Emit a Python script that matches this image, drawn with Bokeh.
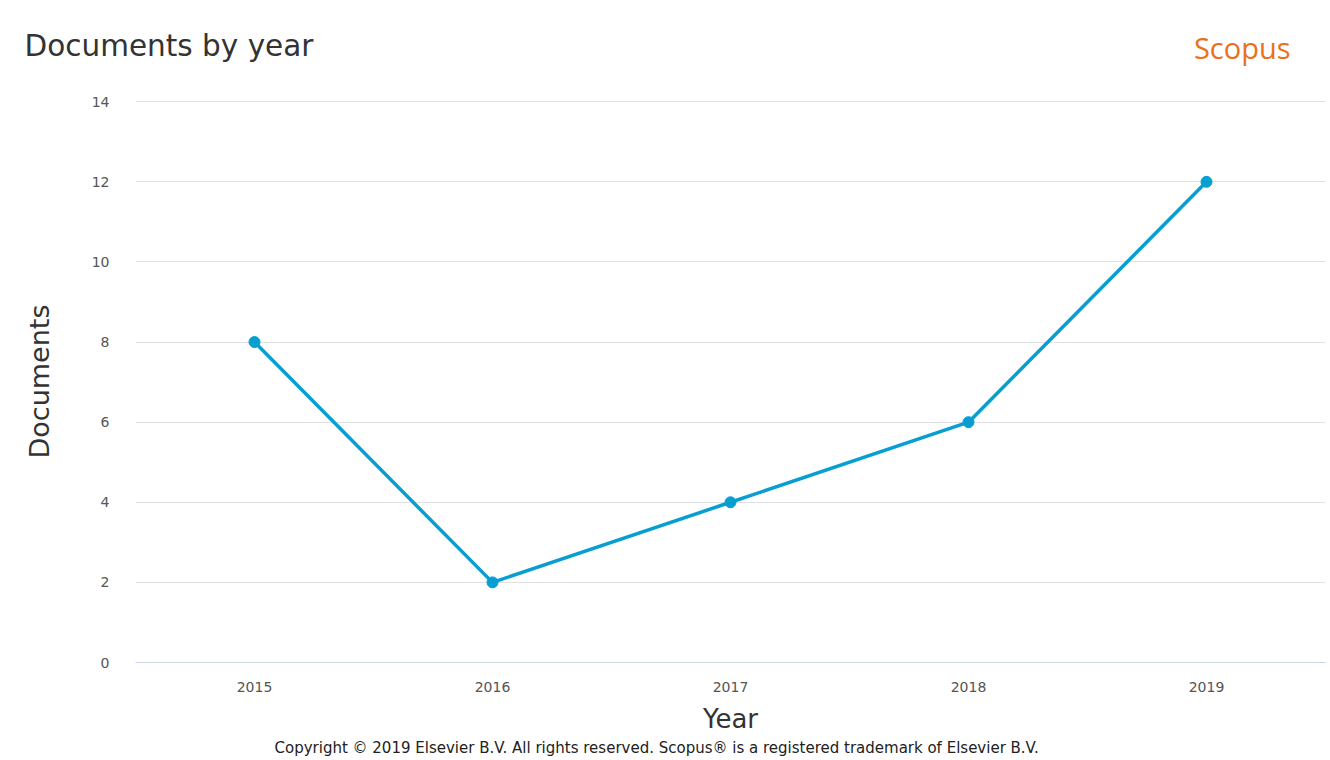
from bokeh.plotting import figure
from bokeh.models import Range1d, FixedTicker, Title
from bokeh.layouts import column, row
from bokeh.core.properties import value
from bokeh.embed import file_html
from bokeh.resources import INLINE

years = [2015, 2016, 2017, 2018, 2019]
documents = [8, 2, 4, 6, 12]
y_ticks = [0, 2, 4, 6, 8, 10, 12, 14]
grid_ticks = [2, 4, 6, 8, 10, 12, 14]

title_text = "Documents by year"
brand_text = "Scopus"
copyright_text = ("Copyright © 2019 Elsevier B.V. All rights reserved. "
                  "Scopus® is a registered trademark of Elsevier B.V.")

LINE = "#079fd2"
W = 1330
HEAD_H = 92
MAIN_H = 758 - HEAD_H

# header: title + brand (own row, so its frame is not aligned with the chart's)
head = figure(width=W, height=HEAD_H, output_backend="svg", toolbar_location=None,
              x_range=Range1d(0, W), y_range=Range1d(0, HEAD_H),
              x_axis_type=None, y_axis_type=None,
              min_border_left=0, min_border_right=0, min_border_top=0, min_border_bottom=0)
head.grid.visible = False
head.outline_line_color = None
head.text(x=[24], y=[HEAD_H - 45], text=[title_text], text_font=value("DejaVu Sans"),
          text_font_size="29.5px", text_color="#333333", text_baseline="alphabetic")
head.text(x=[1290], y=[HEAD_H - 47], text=[brand_text], text_font=value("Open Sans"),
          text_font_size="29px", text_color="#e9711c", text_baseline="alphabetic",
          text_align="right")

# main chart
TOP = 8
p = figure(width=W, height=MAIN_H, output_backend="svg", toolbar_location=None,
           x_range=Range1d(2014.5, 2019.5), y_range=Range1d(0, 14.03),
           min_border_left=135, min_border_right=5,
           min_border_top=TOP, min_border_bottom=MAIN_H - TOP - 562)
p.outline_line_color = None
p.background_fill_color = "white"

p.line(years, documents, line_color=LINE, line_width=3.5)
p.scatter(years, documents, size=11, fill_color=LINE, line_color=LINE)

p.xaxis.ticker = FixedTicker(ticks=years)
p.yaxis.ticker = FixedTicker(ticks=y_ticks)
p.xgrid.grid_line_color = None
p.ygrid.ticker = FixedTicker(ticks=grid_ticks)
p.ygrid.grid_line_color = "#e0e0e6"
p.ygrid.grid_line_width = 1

for ax in (p.xaxis, p.yaxis):
    ax.major_tick_line_color = None
    ax.minor_tick_line_color = None
    ax.major_label_text_font = "DejaVu Sans"
    ax.major_label_text_font_size = "14px"
    ax.major_label_text_color = "#555555"
    ax.axis_label_text_font = "DejaVu Sans"
    ax.axis_label_text_font_style = "normal"
    ax.axis_label_text_color = "#333333"

p.xaxis.axis_label_text_font_size = "26px"
p.yaxis.axis_label_text_font_size = "27px"
p.xaxis.axis_line_color = "#ccd6eb"
p.xaxis.axis_line_width = 1
p.yaxis.axis_line_color = None
p.xaxis.axis_label = "Year"
p.yaxis.axis_label = "Documents"
p.xaxis.major_label_standoff = 13
p.xaxis.axis_label_standoff = 9
p.yaxis.major_label_standoff = 20
p.yaxis.axis_label_standoff = 34

copyright_title = Title(text=copyright_text, align="left", offset=139, standoff=0,
                        text_font="DejaVu Sans", text_font_size="15px",
                        text_font_style="normal", text_color="#222222")
p.add_layout(copyright_title, "below")

layout = column(row(head), p, spacing=0)
open("out.html", "w").write(file_html(layout, INLINE))
